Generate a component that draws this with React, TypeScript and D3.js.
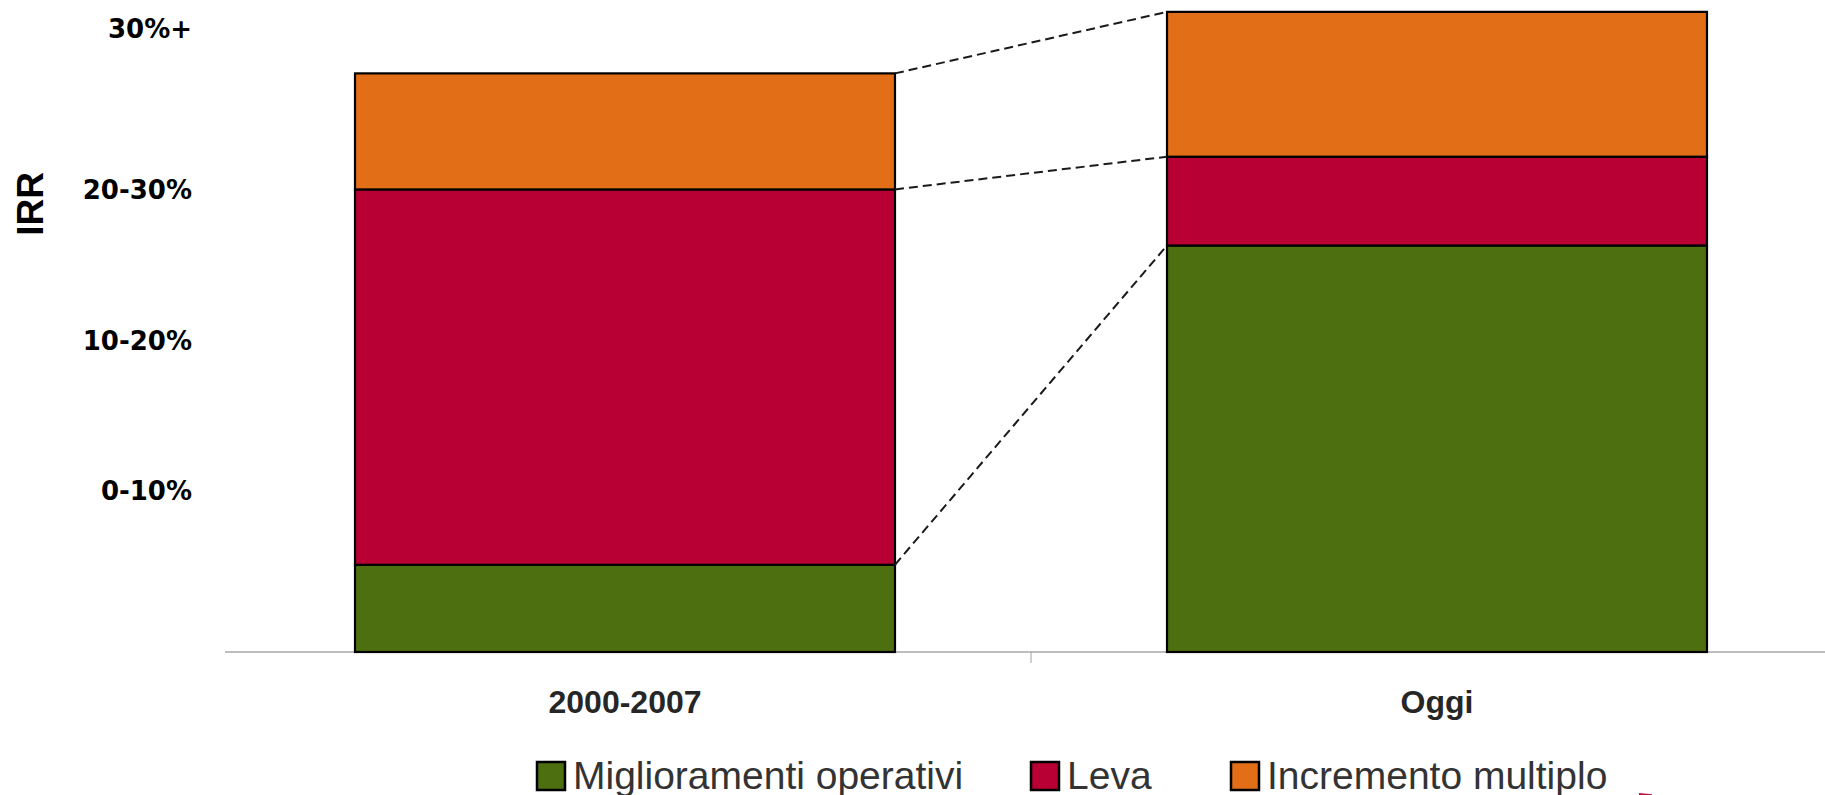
import React from "react";
import * as d3 from "d3";

// IRR drivers by period (stacked, arbitrary IRR units on a 0-40 scale)
const periods = ["2000-2007", "Oggi"];
const seriesNames = ["Miglioramenti operativi", "Leva", "Incremento multiplo"];
const miglioramenti = [5.6, 26.1];
const leva = [24.1, 5.7];
const incremento = [7.45, 9.3];

// Band labels on the IRR axis
const irrTickValues = [10.35, 20, 29.7, 40];
const irrTickLabels = ["0-10%", "10-20%", "20-30%", "30%+"];

const seriesColors = ["#4e6f0f", "#b80034", "#e26e18"];

// Layout
const W = 1825;
const H = 795;
const baseY = 652;
const topY = 29;
const legendX = [537, 1031, 1231];
const legendY = 762;
const legendBox = 28;

export default function App() {
  const keys = ["m", "l", "i"];
  const rows = periods.map((p, i) => ({
    period: p,
    m: miglioramenti[i],
    l: leva[i],
    i: incremento[i],
  }));
  const stacked = d3.stack<any>().keys(keys)(rows);

  const x = d3
    .scaleBand<string>()
    .domain(periods)
    .range([219, 1843])
    .paddingInner(0.335)
    .paddingOuter(0.1675);
  const y = d3.scaleLinear().domain([0, 40]).range([baseY, topY]);
  const bw = x.bandwidth();

  const xl = (x(periods[0]) as number) + bw;
  const xr = x(periods[1]) as number;
  const midTick = ((x(periods[0]) as number) + bw / 2 + (x(periods[1]) as number) + bw / 2) / 2;

  return (
    <svg
      width={W}
      height={H}
      style={{ position: "absolute", left: 0, top: 0, background: "#fff" }}
    >
      {/* axis baseline and category separator tick */}
      <line x1={225} x2={W} y1={baseY} y2={baseY} stroke="#bdbdbd" strokeWidth={2} />
      <line x1={midTick} x2={midTick} y1={baseY} y2={baseY + 11} stroke="#a0a0a0" strokeWidth={1} />

      {/* stacked bars */}
      {stacked.map((layer, li) => (
        <g key={keys[li]} fill={seriesColors[li]}>
          {layer.map((d, pi) => (
            <rect
              key={pi}
              x={x(periods[pi]) as number}
              y={y(d[1])}
              width={bw}
              height={y(d[0]) - y(d[1])}
              stroke="#000"
              strokeWidth={2.2}
            />
          ))}
        </g>
      ))}

      {/* connectors between matching stack levels */}
      {stacked.map((layer, li) => (
        <line
          key={"c" + li}
          x1={xl}
          y1={y(layer[0][1])}
          x2={xr}
          y2={y(layer[1][1])}
          stroke="#1a1a1a"
          strokeWidth={2}
          strokeDasharray="9 5"
        />
      ))}

      {/* IRR band labels */}
      {irrTickValues.map((v, i) => (
        <text
          key={"t" + i}
          x={192}
          y={y(v)}
          dy="0.36em"
          textAnchor="end"
          fontFamily="'DejaVu Sans', Verdana, sans-serif"
          fontWeight="bold"
          fontSize={26}
          fill="#000"
        >
          {irrTickLabels[i]}
        </text>
      ))}

      {/* axis title */}
      <text
        transform={`translate(43,204) rotate(-90)`}
        textAnchor="middle"
        fontFamily="'Liberation Sans', Arial, sans-serif"
        fontWeight="bold"
        fontSize={37}
        fill="#000"
      >
        IRR
      </text>

      {/* category labels */}
      {periods.map((p) => (
        <text
          key={p}
          x={(x(p) as number) + bw / 2}
          y={713}
          textAnchor="middle"
          fontFamily="'Liberation Sans', Arial, sans-serif"
          fontWeight="bold"
          fontSize={32}
          fill="#262626"
        >
          {p}
        </text>
      ))}

      {/* legend */}
      {seriesNames.map((name, i) => (
        <g key={name}>
          <rect
            x={legendX[i]}
            y={legendY}
            width={legendBox}
            height={legendBox}
            fill={seriesColors[i]}
            stroke="#000"
            strokeWidth={2.5}
          />
          <text
            x={legendX[i] + legendBox + 8}
            y={789}
            fontFamily="'Liberation Sans', Arial, sans-serif"
            fontSize={39}
            fill="#333"
          >
            {name}
          </text>
        </g>
      ))}

      {/* small red marker at the lower edge */}
      <path d="M1639,793 L1652,794.2 L1652,795 L1639,795 Z" fill="#c8103e" />
    </svg>
  );
}
